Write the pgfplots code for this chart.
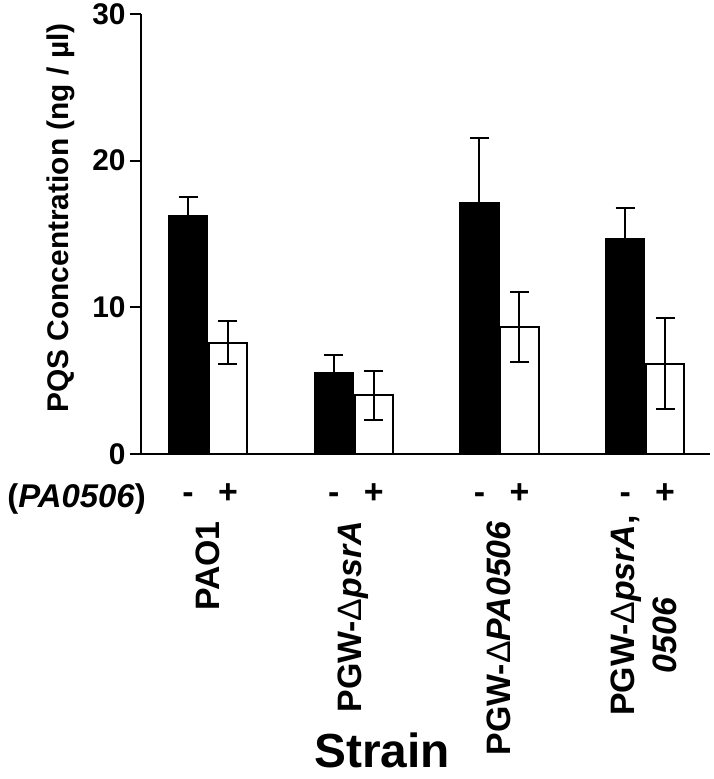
\documentclass[border=0pt]{standalone}
\usepackage{pgfplots}
\pgfplotsset{compat=1.18}
\usepackage{fontspec}
\setmainfont{Liberation Sans}
\newcommand{\D}{{\mdseries\upshape Δ}}
\begin{document}
\begin{tikzpicture}
\begin{axis}[
  at={(140.7bp,-454bp)}, anchor=south west,
  scale only axis, width=569.3bp, height=440bp,
  xmin=-0.462, xmax=3.445, ymin=0, ymax=30,
  axis lines*=left,
  axis line style={line width=2bp, black},
  tick align=outside,
  major tick length=11bp,
  ytick={0,10,20,30},
  yticklabels={0,10,20,30},
  yticklabel style={font=\bfseries\fontsize{30}{30}\selectfont, inner sep=0pt, anchor=east, xshift=-4bp},
  ytick style={line width=2bp, black},
  xtick={-0.137,0.137,0.863,1.137,1.863,2.137,2.863,3.137},
  xticklabels={-,+,-,+,-,+,-,+},
  xtick style={draw=none},
  xticklabel style={font=\bfseries\fontsize{34}{34}\selectfont, anchor=base, inner sep=0pt, yshift=-38bp},
  clip=false,
  ybar, bar width=0.262,
  error bars/y dir=both, error bars/y explicit,
  error bars/error bar style={line width=2bp, black},
  error bars/error mark options={rotate=90, line width=2bp, mark size=9.5bp, black},
]
\addplot[fill=black, draw=black, line width=2bp, bar shift=-0.137, error bars/y dir=plus]
  coordinates {(0,16.2) +- (0,1.3) (1,5.5) +- (0,1.23) (2,17.1) +- (0,4.45) (3,14.65) +- (0,2.15)};
\addplot[fill=white, draw=black, line width=2bp, bar shift=0.137]
  coordinates {(0,7.6) +- (0,1.45) (1,4.0) +- (0,1.67) (2,8.65) +- (0,2.37) (3,6.15) +- (0,3.1)};
\end{axis}
\node[rotate=90, inner sep=0pt, font=\bfseries\fontsize{30}{30}\selectfont] at (61bp,-218bp) {PQS Concentration (ng / µl)};
\node[anchor=base east, inner sep=0pt, font=\bfseries\fontsize{33}{33}\selectfont] at (146bp,-507bp) {(\textit{PA0506})};
\node[rotate=90, anchor=east, inner sep=0pt, font=\bfseries\fontsize{34}{42}\selectfont] at (208bp,-521bp) {PAO1};
\node[rotate=90, anchor=east, inner sep=0pt, font=\bfseries\fontsize{34}{42}\selectfont] at (353bp,-521bp) {PGW-\D\textit{psrA}};
\node[rotate=90, anchor=east, inner sep=0pt, font=\bfseries\fontsize{34}{42}\selectfont] at (499bp,-521bp) {PGW-\D\textit{PA0506}};
\node[rotate=90, anchor=east, inner sep=0pt, align=center, font=\bfseries\fontsize{34}{42}\selectfont] at (644bp,-515bp) {PGW-\D\textit{psrA},\\\textit{0506}\hspace*{40bp}};
\node[anchor=base, inner sep=0pt, font=\bfseries\fontsize{48}{48}\selectfont] at (382bp,-767bp) {Strain};
\pgfresetboundingbox
\path[use as bounding box] (0,0) rectangle (714bp,-779bp);
\end{tikzpicture}
\end{document}
